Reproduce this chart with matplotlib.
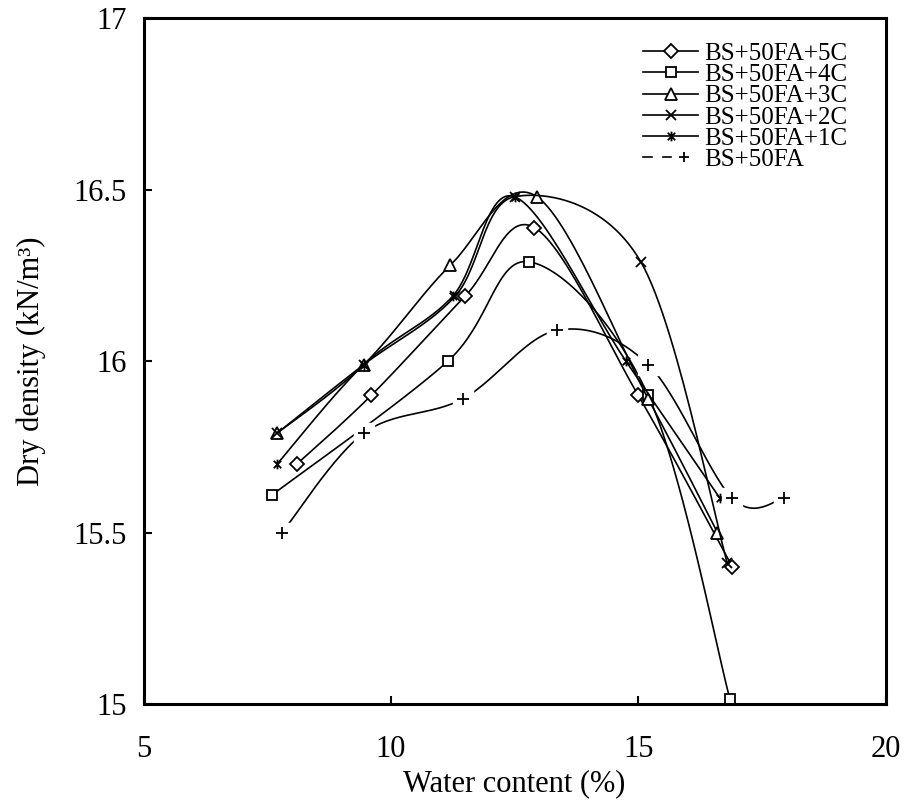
import numpy as np
import matplotlib
matplotlib.use("Agg")
import matplotlib.pyplot as plt
from matplotlib.path import Path
from matplotlib.lines import Line2D
from matplotlib.legend_handler import HandlerTuple
from matplotlib.ticker import FuncFormatter

# Compaction curves: water content (%) vs dry density (kN/m3)
x_5c = [8.1, 9.6, 11.5, 12.9, 15.0, 16.9]
y_5c = [15.7, 15.9, 16.19, 16.39, 15.9, 15.4]
x_4c = [7.6, 11.15, 12.8, 15.2, 16.85]
y_4c = [15.61, 16.0, 16.29, 15.9, 15.015]
x_3c = [7.7, 9.45, 11.2, 12.95, 15.2, 16.6]
y_3c = [15.79, 15.99, 16.28, 16.48, 15.89, 15.5]
x_2c = [7.7, 9.45, 11.3, 12.5, 15.05, 16.8]
y_2c = [15.79, 15.99, 16.19, 16.48, 16.29, 15.41]
x_1c = [7.7, 9.45, 11.25, 12.5, 14.75, 16.65]
y_1c = [15.7, 15.99, 16.19, 16.48, 16.0, 15.6]
x_0c = [7.8, 9.45, 11.45, 13.35, 15.2, 16.9, 17.95]
y_0c = [15.5, 15.79, 15.89, 16.09, 15.99, 15.6, 15.6]

labels = ["BS+50FA+5C", "BS+50FA+4C", "BS+50FA+3C", "BS+50FA+2C", "BS+50FA+1C", "BS+50FA"]
x_ticks = [5, 10, 15, 20]
y_ticks = [15, 15.5, 16, 16.5, 17]

plt.rcParams["font.family"] = ["Liberation Serif", "DejaVu Serif"]

fig = plt.figure(figsize=(9.05, 8.1), dpi=100)
ax = fig.add_axes([0.1586, 0.1309, 0.8201, 0.8463])
ax.set_xlim(5, 20)
ax.set_ylim(15, 17)

# x + vertical bar, like the spreadsheet asterisk marker
star_marker = Path(
    [(-1, -1), (1, 1), (-1, 1), (1, -1), (0, -1.3), (0, 1.3)],
    [Path.MOVETO, Path.LINETO, Path.MOVETO, Path.LINETO, Path.MOVETO, Path.LINETO],
)


def smooth(xs, ys, n=30):
    """Bezier smoothing (Catmull-Rom style) done in screen space."""
    pts = ax.transData.transform(np.column_stack([xs, ys]))
    P = np.vstack([pts[0], pts, pts[-1]])
    out = [pts[0]]
    t = np.linspace(0, 1, n)[1:, None]
    for i in range(len(pts) - 1):
        p0, p1, p2, p3 = P[i], P[i + 1], P[i + 2], P[i + 3]
        c1 = p1 + (p2 - p0) / 6
        c2 = p2 - (p3 - p1) / 6
        seg = (1 - t) ** 3 * p1 + 3 * (1 - t) ** 2 * t * c1 + 3 * (1 - t) * t ** 2 * c2 + t ** 3 * p2
        out.extend(seg)
    data = ax.transData.inverted().transform(np.array(out))
    marks = [k * (n - 1) for k in range(len(xs))]
    return data[:, 0], data[:, 1], marks


series = [
    (x_5c, y_5c, dict(marker="D", markersize=7.5)),
    (x_4c, y_4c, dict(marker="s", markersize=7.5)),
    (x_3c, y_3c, dict(marker="^", markersize=9)),
    (x_2c, y_2c, dict(marker="x", markersize=7)),
    (x_1c, y_1c, dict(marker=star_marker, markersize=7)),
]

handles = []
for (xs, ys, style), lab in zip(series, labels):
    sx, sy, marks = smooth(xs, ys)
    h, = ax.plot(sx, sy, color="black", lw=1.2, markevery=marks,
                 markerfacecolor="white", markeredgecolor="black",
                 markeredgewidth=1.3, clip_on=False, zorder=2, label=lab, **style)
    handles.append(h)

# plain-water series: markers sit on a white box that breaks the line
sx, sy, marks = smooth(x_0c, y_0c)
ax.plot(sx, sy, color="black", lw=1.2, markevery=marks, marker="s",
        markersize=14, markerfacecolor="white", markeredgecolor="white", zorder=3)
ax.plot(x_0c, y_0c, ls="none", marker="+", markersize=9,
        markeredgewidth=1.3, color="black", zorder=4)
leg_box = Line2D([], [], color="black", lw=1.2, marker="s", markersize=6,
                 markerfacecolor="white", markeredgecolor="white")
leg_plus = Line2D([], [], ls="none", marker="+", markersize=7,
                  markeredgewidth=1.3, color="black")
handles.append((leg_box, leg_plus))

ax.legend(handles, labels, loc="upper left", bbox_to_anchor=(0.673, 0.965),
          frameon=False, fontsize=18, handlelength=2.2, handletextpad=0.25,
          labelspacing=-0.05, borderpad=0, borderaxespad=0, numpoints=1,
          handler_map={tuple: HandlerTuple(ndivide=None)})

ax.set_xticks(x_ticks)
ax.set_yticks(y_ticks)
ax.yaxis.set_major_formatter(FuncFormatter(lambda v, p: "%g" % v))
ax.tick_params(direction="in", length=6, width=1.5, labelsize=22)
ax.tick_params(axis="x", pad=22)
ax.tick_params(axis="y", pad=12)
for sp in ax.spines.values():
    sp.set_linewidth(2.2)

ax.set_xlabel("Water content (%)", fontsize=22, labelpad=4)
ax.set_ylabel("Dry density (kN/m³)", fontsize=22, labelpad=20)

fig.savefig("out.png", dpi=100)
